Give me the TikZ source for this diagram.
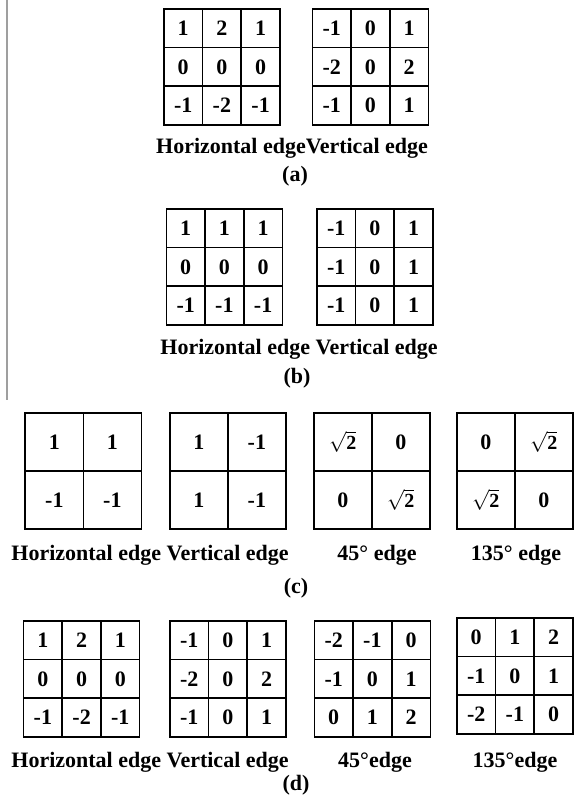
\documentclass[tikz,border=0pt]{standalone}
\usepackage{fontspec}
\setmainfont{Liberation Serif}
\usetikzlibrary{matrix}
\tikzset{
  cellfont/.style={font=\fontsize{22}{22}\selectfont\bfseries},
  kgrid/.style={matrix of nodes, inner sep=0pt, outer sep=0pt,
    column sep=-1.7pt, row sep=-1.7pt, anchor=north west,
    nodes={draw=black, line width=1.7pt, inner sep=0pt, anchor=center, cellfont,
      minimum width=#1, minimum height=#1}},
  kgrid/.default=38.7pt,
  lbl/.style={anchor=base, inner sep=0pt, font=\fontsize{22}{22}\selectfont\bfseries},
  captxt/.style={anchor=base, inner sep=0pt, font=\fontsize{22}{22}\selectfont\bfseries},
  sq/.style={font=\fontsize{20}{20}\selectfont\bfseries}
}
\newcommand{\rtwo}{$\sqrt{\mbox{2}}$}
\begin{document}
\begin{tikzpicture}[x=1pt,y=-1pt]
\fill[white] (0,0) rectangle (573,800);
\useasboundingbox (0,0) rectangle (573,800);
% left rule
\draw[gray!75, line width=2pt] (6.5,0) -- (6.5,400);

% (a)
\matrix (a1) [kgrid] at (163,8) {
 1 & 2 & 1 \\ 0 & 0 & 0 \\ -1 & -2 & -1 \\};
\matrix (a2) [kgrid] at (311.5,8) {
 -1 & 0 & 1 \\ -2 & 0 & 2 \\ -1 & 0 & 1 \\};
\node[lbl] (alab) at (292,153) {Horizontal edgeVertical edge};
\node[captxt] (acap) at (295,181) {(a)};

% (b)
\matrix (b1) [kgrid] at (165.5,208) {
 1 & 1 & 1 \\ 0 & 0 & 0 \\ -1 & -1 & -1 \\};
\matrix (b2) [kgrid] at (316,208) {
 -1 & 0 & 1 \\ -1 & 0 & 1 \\ -1 & 0 & 1 \\};
\node[lbl] (blab) at (299,354) {Horizontal edge Vertical edge};
\node[captxt] (bcap) at (297,383) {(b)};

% (c)
\matrix (c1) [kgrid=58pt] at (24.5,412) {
 1 & 1 \\ -1 & -1 \\};
\matrix (c2) [kgrid=58pt] at (169,412) {
 1 & -1 \\ 1 & -1 \\};
\matrix (c3) [kgrid=58pt] at (313,412) {
 |[sq]| \rtwo & 0 \\ 0 & |[sq]| \rtwo \\};
\matrix (c4) [kgrid=58pt] at (456,412) {
 0 & |[sq]| \rtwo \\ |[sq]| \rtwo & 0 \\};
\node[lbl] (clab1) at (150,560) {Horizontal edge Vertical edge};
\node[lbl] (clab3) at (377,560) {45° edge};
\node[lbl] (clab4) at (516,560) {135° edge};
\node[captxt] (ccap) at (296,593) {(c)};

% (d)
\matrix (d1) [kgrid] at (22.7,620) {
 1 & 2 & 1 \\ 0 & 0 & 0 \\ -1 & -2 & -1 \\};
\matrix (d2) [kgrid] at (169,620) {
 -1 & 0 & 1 \\ -2 & 0 & 2 \\ -1 & 0 & 1 \\};
\matrix (d3) [kgrid] at (313.5,620) {
 -2 & -1 & 0 \\ -1 & 0 & 1 \\ 0 & 1 & 2 \\};
\matrix (d4) [kgrid] at (456,617) {
 0 & 1 & 2 \\ -1 & 0 & 1 \\ -2 & -1 & 0 \\};
\node[lbl] (dlab1) at (150,767) {Horizontal edge Vertical edge};
\node[lbl] (dlab3) at (375,767) {45°edge};
\node[lbl] (dlab4) at (515,767) {135°edge};
\node[captxt] (dcap) at (296,790) {(d)};
\end{tikzpicture}
\end{document}
